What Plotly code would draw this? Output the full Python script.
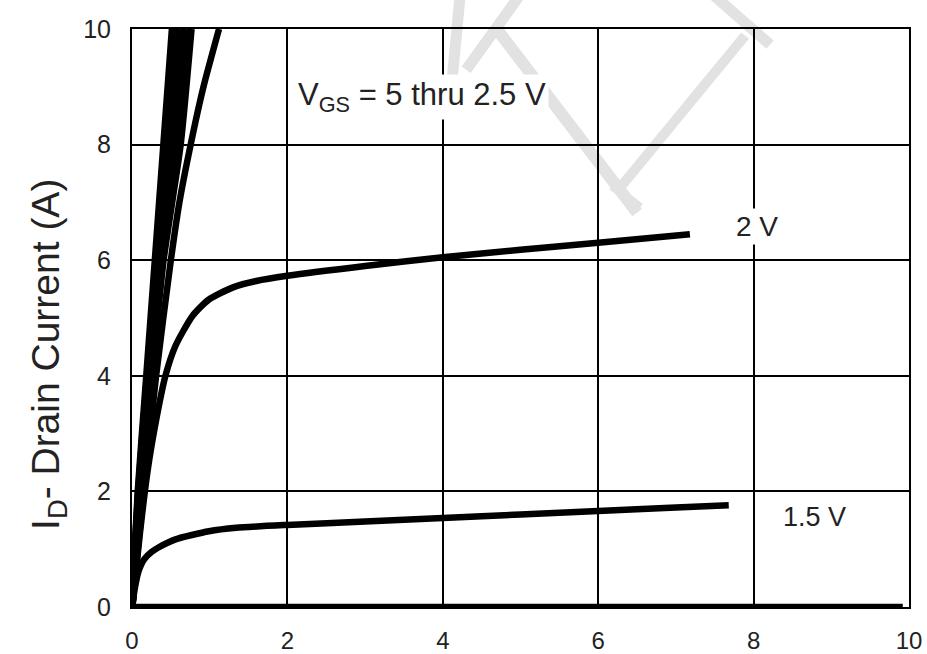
import plotly.graph_objects as go

# Output characteristics: drain current I_D (A) vs drain-source voltage V_DS (V)
# Steep curves (5 thru 2.5 V): V_DS read at given I_D levels
band_id = [0, 2, 4, 6, 8, 10]
vds_5v = [0, 0.08, 0.19, 0.30, 0.41, 0.52]
vds_4p5v = [0, 0.085, 0.20, 0.315, 0.445, 0.56]
vds_4v = [0, 0.09, 0.21, 0.33, 0.48, 0.60]
vds_3p5v = [0, 0.10, 0.23, 0.36, 0.55, 0.68]
vds_3v = [0, 0.11, 0.25, 0.40, 0.62, 0.76]

id_2p5v = [0, 2, 4, 6, 7, 8, 9, 10]
vds_2p5v = [0, 0.15, 0.31, 0.50, 0.61, 0.755, 0.92, 1.12]

vds_2v = [0, 0.05, 0.1, 0.2, 0.32, 0.43, 0.56, 0.78, 0.99, 1.3, 1.6, 2.0, 3.0, 4.0, 5.0, 6.0, 7.18]
id_2v = [0, 0.6, 1.25, 2.35, 3.3, 4.0, 4.52, 5.04, 5.32, 5.53, 5.64, 5.73, 5.9, 6.05, 6.18, 6.3, 6.45]

vds_1p5v = [0, 0.04, 0.08, 0.12, 0.16, 0.25, 0.34, 0.56, 0.99, 1.34, 2, 3, 4, 5, 6, 7, 7.68]
id_1p5v = [0, 0.35, 0.6, 0.74, 0.83, 0.95, 1.03, 1.17, 1.31, 1.37, 1.42, 1.48, 1.54, 1.60, 1.66, 1.72, 1.76]

vds_1v = [0, 9.92]
id_1v = [0, 0]

tick_vals = [0, 2, 4, 6, 8, 10]

fig = go.Figure()
curves = [(vds_5v, band_id, 7.5), (vds_4p5v, band_id, 7.5), (vds_4v, band_id, 7.5),
          (vds_3p5v, band_id, 7.5), (vds_3v, band_id, 7.5), (vds_2p5v, id_2p5v, 6.5),
          (vds_2v, id_2v, 6.5), (vds_1p5v, id_1p5v, 6.5), (vds_1v, id_1v, 6.5)]
for xs, ys, w in curves:
    fig.add_trace(go.Scatter(x=xs, y=ys, mode="lines",
                             line=dict(color="black", width=w, shape="spline", smoothing=0.6),
                             showlegend=False, hoverinfo="skip"))

# watermark strokes (decorative, in pixel-derived paper coords)
L, R, T, B = 131.7, 909.0, 29.3, 607.5
def px(xp, yp):
    return (xp - L) / (R - L), (B - yp) / (B - T)
wm = [((460, -5), (452, 80), 11), ((520, -5), (466, 70), 11), ((497, 30), (637, 213), 12),
      ((620, 188), (745, 36), 10), ((713, -5), (770, 45), 11), ((612, 186), (640, 208), 9)]
shapes = []
for (a, b, w) in wm:
    x0, y0 = px(*a)
    x1, y1 = px(*b)
    shapes.append(dict(type="line", xref="paper", yref="paper", x0=x0, y0=y0, x1=x1, y1=y1,
                       line=dict(color="#e2e2e2", width=w), layer="below"))

FONT = "Liberation Sans, Arial, sans-serif"
tx, ty = px(48, 355)
fig.update_layout(
    width=927, height=654,
    margin=dict(l=132, r=18, t=29, b=47),
    paper_bgcolor="white", plot_bgcolor="white",
    shapes=shapes,
    font=dict(family=FONT, color="#222222"),
    xaxis=dict(range=[0, 10], tickvals=tick_vals, showgrid=True, gridcolor="black", gridwidth=1.5,
               showline=True, linecolor="black", linewidth=2, mirror=True, zeroline=False,
               ticks="", ticklabelstandoff=11, tickfont=dict(size=24, family=FONT, color="#222222")),
    yaxis=dict(range=[0, 10], tickvals=tick_vals, showgrid=True, gridcolor="black", gridwidth=1.5,
               showline=True, linecolor="black", linewidth=2, mirror=True, zeroline=False,
               ticks="", ticklabelstandoff=14, tickfont=dict(size=25, family=FONT, color="#222222")),
    annotations=[
        dict(x=tx, y=ty, xref="paper", yref="paper", text="I<sub>D</sub>- Drain Current (A)",
             showarrow=False, textangle=-90, xanchor="center", yanchor="middle",
             font=dict(size=39, family=FONT, color="#222222")),
        dict(x=2.10, y=8.83, xref="x", yref="y", text="V<sub>GS</sub> = 5 thru 2.5 V", showarrow=False,
             xanchor="left", yanchor="middle", font=dict(size=31, family=FONT, color="#222222"),
             bgcolor="white", borderpad=2),
        dict(x=8.04, y=6.58, xref="x", yref="y", text="2 V", showarrow=False,
             xanchor="center", yanchor="middle", font=dict(size=28, family=FONT, color="#222222"),
             bgcolor="white", borderpad=2),
        dict(x=8.78, y=1.55, xref="x", yref="y", text="1.5 V", showarrow=False,
             xanchor="center", yanchor="middle", font=dict(size=27, family=FONT, color="#222222"),
             bgcolor="white", borderpad=2),
    ],
)
fig.update_yaxes(automargin=False)
fig.update_xaxes(automargin=False)
fig.write_html("out.html", config={"displayModeBar": False},
               post_script="document.body.style.margin='0px';document.body.style.padding='0px';")
